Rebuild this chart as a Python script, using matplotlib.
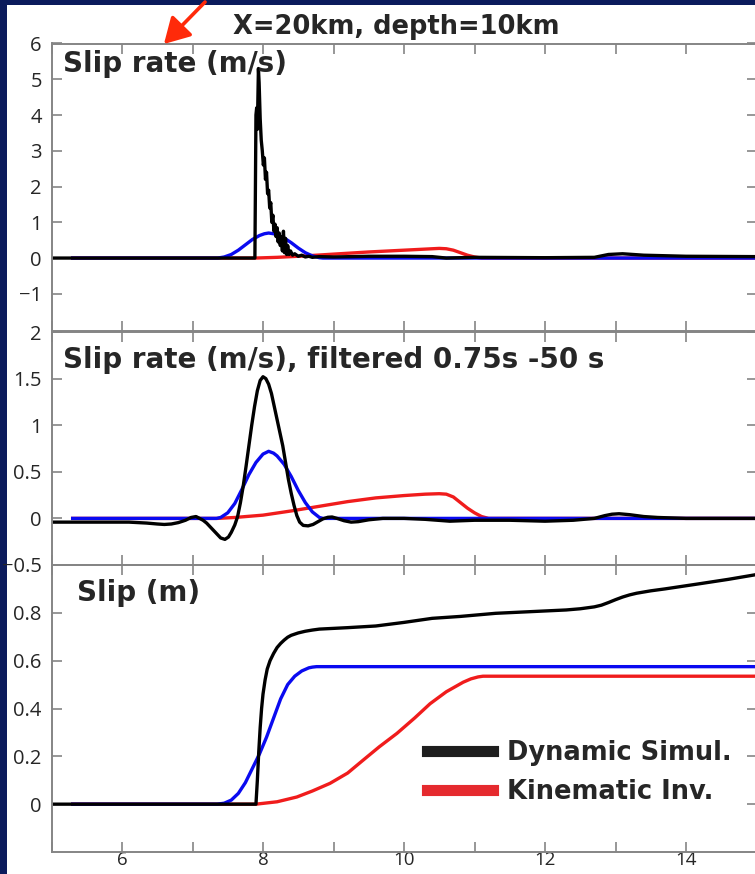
import matplotlib
matplotlib.use("Agg")
import matplotlib.pyplot as plt
from matplotlib.lines import Line2D
from matplotlib.patches import Rectangle, FancyArrowPatch

# ---- data -----------------------------------------------------------------
# Panel 1: slip rate (m/s), unfiltered
t_rate_dyn = [5.0, 7.885, 7.90, 7.91, 7.92, 7.935, 7.945, 7.96, 7.975, 7.99,
              8.005, 8.02, 8.035, 8.05, 8.065, 8.08, 8.095, 8.11, 8.125, 8.14,
              8.155, 8.17, 8.185, 8.20, 8.215, 8.23, 8.245, 8.26, 8.275, 8.29,
              8.305, 8.32, 8.335, 8.35, 8.37, 8.39, 8.42, 8.45, 8.50, 8.55,
              8.60, 8.65, 8.70, 8.80, 9.0, 9.5, 10.0, 10.4, 10.6, 11.0, 12.0,
              12.7, 12.9, 13.1, 13.4, 14.0, 15.0]
rate_dyn = [0.0, 0.0, 4.0, 4.2, 3.6, 5.3, 4.9, 3.9, 3.3, 3.0,
            2.6, 2.8, 2.2, 2.4, 1.8, 1.9, 1.4, 1.55, 1.0, 1.2,
            0.75, 0.95, 0.6, 0.85, 0.45, 0.7, 0.35, 0.6, 0.2, 0.75,
            0.15, 0.55, 0.1, 0.35, 0.1, 0.2, 0.08, 0.12, 0.05, 0.08,
            0.03, 0.05, 0.02, 0.04, 0.03, 0.05, 0.05, 0.04, 0.0, 0.02, 0.01,
            0.02, 0.10, 0.12, 0.08, 0.05, 0.04]

t_rate_kin = [5.3, 7.89, 8.2, 8.6, 9.0, 9.5, 10.0, 10.3, 10.5, 10.6, 10.7,
              10.8, 10.9, 11.0, 11.1, 15.0]
rate_kin = [0.0, 0.0, 0.02, 0.06, 0.11, 0.17, 0.22, 0.25, 0.27, 0.26, 0.22,
            0.15, 0.08, 0.03, 0.0, 0.0]

t_rate_blue = [5.3, 7.36, 7.45, 7.55, 7.65, 7.75, 7.85, 7.95, 8.02, 8.08,
               8.15, 8.2, 8.3, 8.4, 8.5, 8.6, 8.7, 8.8, 8.85, 15.0]
rate_blue = [0.0, 0.0, 0.03, 0.1, 0.22, 0.37, 0.52, 0.63, 0.68, 0.70,
             0.68, 0.65, 0.56, 0.43, 0.28, 0.15, 0.06, 0.01, 0.0, 0.0]

# Panel 2: slip rate (m/s), band-pass filtered 0.75 s - 50 s
t_filt_dyn = [5.0, 5.5, 6.1, 6.35, 6.5, 6.6, 6.7, 6.8, 6.9, 6.98, 7.05, 7.1,
              7.15, 7.2, 7.3, 7.35, 7.4, 7.46, 7.51, 7.55, 7.6, 7.64, 7.68,
              7.72, 7.76, 7.8, 7.84, 7.88, 7.92, 7.96, 8.0, 8.04, 8.08, 8.12,
              8.16, 8.2, 8.24, 8.28, 8.32, 8.36, 8.4, 8.44, 8.48, 8.52, 8.57,
              8.64, 8.71, 8.78, 8.85, 8.92, 8.98, 9.05, 9.15, 9.25, 9.35, 9.5,
              9.7, 10.0, 10.3, 10.65, 11.0, 11.5, 12.0, 12.4, 12.7, 12.85,
              12.95, 13.05, 13.2, 13.4, 13.6, 14.0, 15.0]
filt_dyn = [-0.04, -0.04, -0.04, -0.05, -0.06, -0.065, -0.06, -0.045, -0.02,
            0.01, 0.02, 0.0, -0.02, -0.05, -0.13, -0.17, -0.21, -0.225, -0.2,
            -0.15, -0.07, 0.02, 0.17, 0.35, 0.56, 0.78, 1.0, 1.2, 1.37, 1.48,
            1.52, 1.50, 1.44, 1.34, 1.20, 1.06, 0.92, 0.78, 0.60, 0.42, 0.27,
            0.14, 0.03, -0.04, -0.075, -0.08, -0.065, -0.035, -0.005, 0.012,
            0.015, 0.0, -0.025, -0.04, -0.035, -0.015, 0.0, 0.0, -0.01, -0.03,
            -0.02, -0.02, -0.03, -0.02, 0.0, 0.03, 0.045, 0.05, 0.04, 0.02,
            0.01, 0.0, 0.0]

t_filt_kin = [5.3, 7.35, 7.6, 8.0, 8.4, 8.8, 9.2, 9.6, 10.0, 10.3, 10.5, 10.6,
              10.7, 10.8, 10.9, 11.0, 11.1, 11.2, 15.0]
filt_kin = [0.0, 0.0, 0.01, 0.035, 0.08, 0.13, 0.18, 0.22, 0.245, 0.26, 0.265,
            0.26, 0.23, 0.17, 0.11, 0.06, 0.02, 0.0, 0.0]

t_filt_blue = [5.3, 7.34, 7.4, 7.5, 7.6, 7.7, 7.8, 7.9, 8.0, 8.08, 8.15, 8.2,
               8.3, 8.4, 8.5, 8.6, 8.7, 8.8, 8.85, 15.0]
filt_blue = [0.0, 0.0, 0.01, 0.06, 0.16, 0.31, 0.47, 0.60, 0.69, 0.72, 0.70,
             0.67, 0.58, 0.45, 0.30, 0.17, 0.07, 0.01, 0.0, 0.0]

# Panel 3: cumulative slip (m)
t_slip_dyn = [5.0, 7.9, 7.92, 7.94, 7.96, 7.98, 8.0, 8.03, 8.06, 8.1, 8.15,
              8.2, 8.25, 8.3, 8.35, 8.4, 8.5, 8.6, 8.7, 8.8, 9.2, 9.6, 10.0,
              10.4, 10.8, 11.3, 11.8, 12.3, 12.5, 12.7, 12.8, 12.9, 13.0,
              13.1, 13.2, 13.3, 13.5, 13.7, 14.2, 14.6, 15.0]
slip_dyn = [0.0, 0.0, 0.10, 0.22, 0.32, 0.40, 0.46, 0.52, 0.565, 0.60, 0.63,
            0.655, 0.672, 0.686, 0.698, 0.706, 0.716, 0.723, 0.728, 0.732,
            0.738, 0.745, 0.76, 0.777, 0.785, 0.798, 0.805, 0.812, 0.817,
            0.825, 0.832, 0.843, 0.855, 0.866, 0.875, 0.882, 0.892, 0.90,
            0.922, 0.94, 0.96]

t_slip_kin = [5.3, 7.9, 8.2, 8.48, 8.7, 8.95, 9.2, 9.42, 9.65, 9.9, 10.15,
              10.37, 10.6, 10.84, 10.95, 11.05, 11.12, 15.0]
slip_kin = [0.0, 0.0, 0.01, 0.03, 0.055, 0.087, 0.13, 0.184, 0.24, 0.296,
            0.36, 0.42, 0.47, 0.51, 0.524, 0.532, 0.535, 0.535]

t_slip_blue = [5.3, 7.35, 7.45, 7.55, 7.65, 7.75, 7.85, 7.95, 8.05, 8.15,
               8.25, 8.35, 8.45, 8.55, 8.65, 8.7, 8.76, 15.0]
slip_blue = [0.0, 0.0, 0.004, 0.017, 0.045, 0.09, 0.15, 0.21, 0.28, 0.36,
             0.44, 0.50, 0.535, 0.557, 0.57, 0.573, 0.575, 0.575]

panel_titles = ["Slip rate (m/s)", "Slip rate (m/s), filtered 0.75s -50 s",
                "Slip (m)"]
legend_labels = ["Dynamic Simul.", "Kinematic Inv."]
x_ticks = list(range(5, 16))
x_ticklabels = ["", "6", "", "8", "", "10", "", "12", "", "14", ""]
y_ticks_top = [-1, 0, 1, 2, 3, 4, 5, 6]
y_ticklabels_top = ["\u22121", "0", "1", "2", "3", "4", "5", "6"]
y_ticks_mid = [-0.5, 0, 0.5, 1, 1.5, 2]
y_ticklabels_mid = ["\u22120.5", "0", "0.5", "1", "1.5", "2"]
y_ticks_bot = [0, 0.2, 0.4, 0.6, 0.8]
y_ticklabels_bot = ["0", "0.2", "0.4", "0.6", "0.8"]

# ---- styling --------------------------------------------------------------
W, H = 755, 874
NAVY = "#0b1b5c"
BLACK = "#000000"
RED = "#f01c1c"
BLUE = "#0a0af0"
GREY = "#858585"
TEXT = "#262626"
LW = 2.4
TICK_FONT = ["Open Sans", "DejaVu Sans"]
BOLD_FONT = ["DejaVu Sans"]

fig = plt.figure(figsize=(W / 100, H / 100), dpi=100, facecolor=NAVY)

# white slide panel behind the axes
fig.patches.append(Rectangle((7 / W, 0), 1 - 7 / W, 1 - 5 / H,
                             transform=fig.transFigure, facecolor="white",
                             edgecolor="none", zorder=-5))


def px_axes(top, bottom, left=51.5, right=756.5):
    return fig.add_axes([left / W, 1 - bottom / H, (right - left) / W,
                         (bottom - top) / H])


ax1 = px_axes(43.5, 331)
ax2 = px_axes(332, 565)
ax3 = px_axes(565, 852)

for ax in (ax1, ax2, ax3):
    ax.set_facecolor("none")
    ax.set_xlim(5, 15)
    ax.set_xticks(x_ticks)
    for side in ("left", "top", "bottom"):
        ax.spines[side].set_color(GREY)
        ax.spines[side].set_linewidth(1.4)
    ax.spines["right"].set_visible(False)
    ax.tick_params(direction="in", length=7, width=1.2, color=GREY,
                   top=True, right=True, labelcolor=TEXT)
    ax.tick_params(axis="y", pad=7, labelsize=14.5)
    ax.tick_params(axis="x", pad=-1, labelsize=13.5)

ax1.set_ylim(-2.04, 6)
ax2.set_ylim(-0.5, 2)
ax3.set_ylim(-0.2, 1.0)
ax1.set_xticklabels([])
ax2.set_xticklabels([])
ax3.set_xticklabels(x_ticklabels, family=TICK_FONT)

ax1.set_yticks(y_ticks_top)
ax1.set_yticklabels(y_ticklabels_top, family=TICK_FONT)
ax2.set_yticks(y_ticks_mid)
ax2.set_yticklabels(y_ticklabels_mid, family=TICK_FONT)
ax3.set_yticks(y_ticks_bot)
ax3.set_yticklabels(y_ticklabels_bot, family=TICK_FONT)

# curves: kinematic (red), blue reference, dynamic (black) on top
ax1.plot(t_rate_kin, rate_kin, color=RED, lw=LW)
ax1.plot(t_rate_blue, rate_blue, color=BLUE, lw=LW)
ax1.plot(t_rate_dyn, rate_dyn, color=BLACK, lw=LW)

ax2.plot(t_filt_kin, filt_kin, color=RED, lw=LW)
ax2.plot(t_filt_blue, filt_blue, color=BLUE, lw=LW)
ax2.plot(t_filt_dyn, filt_dyn, color=BLACK, lw=LW)

ax3.plot(t_slip_kin, slip_kin, color=RED, lw=LW)
ax3.plot(t_slip_blue, slip_blue, color=BLUE, lw=LW)
ax3.plot(t_slip_dyn, slip_dyn, color=BLACK, lw=LW)

# panel labels
label_kw = dict(fontsize=20, fontweight="bold", color=TEXT,
                family=BOLD_FONT, va="baseline", ha="left")
fig.text(63 / W, 1 - 72 / H, panel_titles[0], **label_kw)
fig.text(63 / W, 1 - 368 / H, panel_titles[1], **label_kw)
fig.text(77 / W, 1 - 601 / H, panel_titles[2], **label_kw)

# title
fig.text(396 / W, 1 - 34 / H, "X=20km, depth=10km", fontsize=18.5,
         fontweight="bold", color=TEXT, family=BOLD_FONT, ha="center",
         va="baseline")

# legend (dynamic + kinematic only)
handles = [Line2D([], [], color="#1e1e1e", lw=8),
           Line2D([], [], color="#e52a2e", lw=8)]
fig.legend(handles, legend_labels, loc="upper left",
           bbox_to_anchor=(427 / W, 1 - 740 / H), frameon=False,
           borderpad=0, borderaxespad=0, handlelength=2.57,
           handletextpad=0.55, labelspacing=0.5,
           prop=dict(family=BOLD_FONT, weight="bold", size=18.5),
           labelcolor=TEXT)

# red pointer arrow at the top left
arrow = FancyArrowPatch((207 / W, 1.0), (162 / W, 1 - 46 / H),
                        transform=fig.transFigure, color="#ff2a0a",
                        arrowstyle="-|>,head_length=7,head_width=4",
                        lw=2.6, mutation_scale=2.2, zorder=10)
fig.patches.append(arrow)

fig.savefig("out.png", dpi=100, facecolor=NAVY)
